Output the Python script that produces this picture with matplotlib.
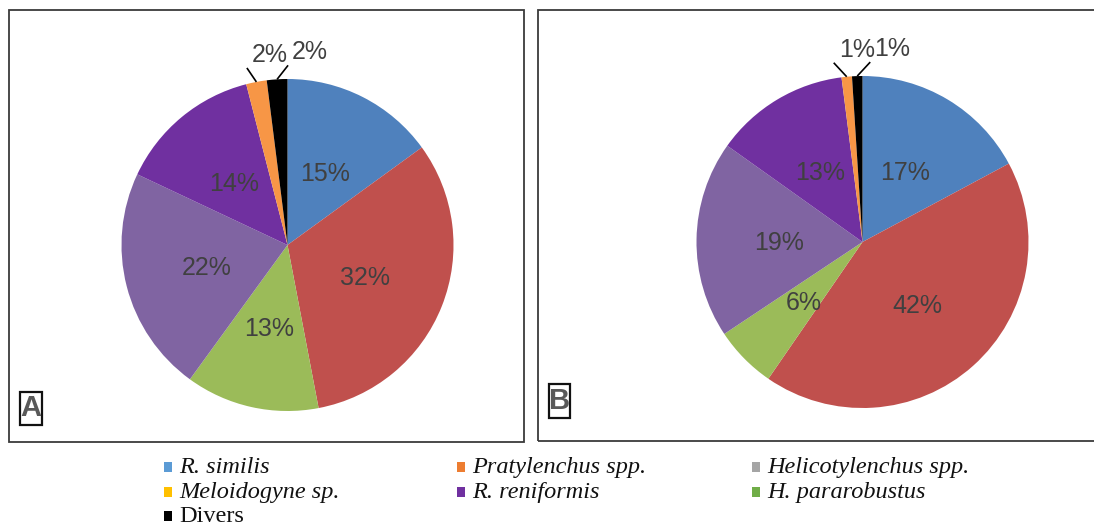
import numpy as np
import matplotlib
matplotlib.use("Agg")
import matplotlib.pyplot as plt
from matplotlib import font_manager
from matplotlib.patches import Rectangle

# ---------------- data ----------------
species = ["R. similis", "Pratylenchus spp.", "Helicotylenchus spp.",
           "Meloidogyne sp.", "R. reniformis", "H. pararobustus", "Divers"]
pct_A = [15, 32, 13, 22, 14, 2, 2]
pct_B = [17, 42, 6, 19, 13, 1, 1]
panel_names = ["A", "B"]

# ---------------- style ----------------
pie_colors = ["#4F81BD", "#C0504D", "#9BBB59", "#8064A2", "#7030A0", "#F79646", "#000000"]
legend_colors = ["#5B9BD5", "#ED7D31", "#A5A5A5", "#FFC000", "#7030A0", "#70AD47", "#000000"]
legend_italic = [True, True, True, True, True, True, False]

W, H = 1094, 525
fig = plt.figure(figsize=(W / 100, H / 100), dpi=100)
fig.patch.set_facecolor("white")

names = {f.name for f in font_manager.fontManager.ttflist}
box_font = "Liberation Sans Narrow" if "Liberation Sans Narrow" in names else "Liberation Sans"

R_PX = 166.0
SPAN = 1.3
centers = {"A": (287.5, 245.0), "B": (862.5, 242.0)}          # pixel, from top
frames = {"A": (8.6, 10.3, 524.0, 442.0), "B": (538.0, 10.3, 1100.0, 440.5)}
tag_boxes = {"A": (20.0, 392.0, 42.0, 425.0), "B": (549.0, 384.0, 570.0, 418.0)}
leader = {"A": [(-9.5, 14.0), (11.0, 14.0)], "B": [(-13.0, 14.0), (13.0, 14.0)]}
text_shift = {"A": [5.0, 3.5], "B": [5.5, 4.0]}
label_col = "#404040"


def fx(x):
    return x / W


def fy(y):
    return 1 - y / H


data = {"A": pct_A, "B": pct_B}

for name in panel_names:
    # frame
    x0, y0, x1, y1 = frames[name]
    fig.patches.append(Rectangle((fx(x0), fy(y1)), fx(x1) - fx(x0), fy(y0) - fy(y1),
                                 transform=fig.transFigure, fill=False,
                                 edgecolor="#3a3a3a", linewidth=1.3, zorder=0))
    # tag box
    bx0, by0, bx1, by1 = tag_boxes[name]
    fig.patches.append(Rectangle((fx(bx0), fy(by1)), fx(bx1) - fx(bx0), fy(by0) - fy(by1),
                                 transform=fig.transFigure, fill=False,
                                 edgecolor="#111111", linewidth=1.6, zorder=3))
    fig.text(fx((bx0 + bx1) / 2), fy((by0 + by1) / 2), name, ha="center", va="center",
             fontsize=21, fontweight="bold", color="#595959", family=box_font)

    cx, cy = centers[name]
    half = SPAN * R_PX
    ax = fig.add_axes([fx(cx - half), fy(cy + half), 2 * half / W, 2 * half / H])
    vals = data[name]
    wedges, _ = ax.pie(vals, colors=pie_colors, startangle=90, counterclock=False,
                       radius=1.0, wedgeprops=dict(linewidth=0))
    ax.set_xlim(-SPAN, SPAN)
    ax.set_ylim(-SPAN, SPAN)
    ax.set_aspect("auto")
    ax.axis("off")

    small = []
    for w, v in zip(wedges, vals):
        mid = np.deg2rad((w.theta1 + w.theta2) / 2)
        if v >= 5:
            ax.text(0.5 * np.cos(mid), 0.5 * np.sin(mid), f"{v}%", ha="center",
                    va="center_baseline", fontsize=18, color=label_col,
                    family="Liberation Sans")
        else:
            small.append((mid, v))
    # small slices: leader lines + outside labels
    small.sort(key=lambda t: -t[0])  # leftmost (larger angle) first
    for (mid, v), (dx, dy), sh in zip(small, leader[name], text_shift[name]):
        ex, ey = np.cos(mid), np.sin(mid)
        lx, ly = ex + dx / R_PX, ey + dy / R_PX
        ax.plot([ex, lx], [ey, ly], color="black", linewidth=1.2, solid_capstyle="butt")
        ax.text(lx + sh / R_PX, ly + 6 / R_PX, f"{v}%", ha="left", va="baseline",
                fontsize=18, color=label_col, family="Liberation Sans")

# ---------------- legend ----------------
col_x = [164.0, 457.0, 752.0]
row_base = [473.0, 498.0, 522.0]
for i, (sp, c, it) in enumerate(zip(species, legend_colors, legend_italic)):
    r, k = divmod(i, 3)
    x = col_x[k]
    yb = row_base[r]
    fig.patches.append(Rectangle((fx(x), fy(yb - 1)), 8 / W, 10 / H,
                                 transform=fig.transFigure, facecolor=c,
                                 edgecolor="none"))
    fig.text(fx(x + 15), fy(yb), sp, ha="left", va="baseline", fontsize=17.5,
             style="italic" if it else "normal", family="Liberation Serif",
             color="#111111")

fig.savefig("out.png", dpi=100)
